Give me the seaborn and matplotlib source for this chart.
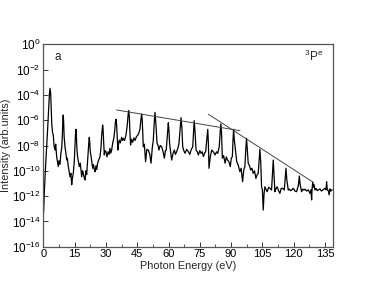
import numpy as np
import matplotlib
matplotlib.use("Agg")
import matplotlib.pyplot as plt
from matplotlib.ticker import MultipleLocator, NullLocator, FuncFormatter
import seaborn as sns
import pandas as pd

# spectrum: (photon energy eV, log10 intensity)
spec_low = [
    (0.1, -13.3), (0.5, -11.5), (1.0, -9.8), (1.5, -8.3), (2.0, -6.8), (2.6, -4.8),
    (2.9, -3.9), (3.2, -3.48), (3.5, -3.9), (3.8, -5.2), (4.0, -6.25), (4.4, -7.0),
    (4.75, -7.17), (5.1, -8.0), (5.56, -8.36), (5.9, -7.9), (6.38, -8.9), (6.8, -9.3),
    (7.14, -9.67), (7.5, -9.2), (7.96, -9.5), (8.4, -8.6), (8.77, -8.22), (9.1, -7.2),
    (9.3, -6.1), (9.5, -5.59), (9.7, -6.1), (9.95, -7.3), (10.35, -8.1), (10.8, -8.6),
    (11.17, -9.15), (11.5, -9.0), (11.94, -9.67), (12.3, -10.0), (12.75, -10.47),
    (13.2, -10.2), (13.57, -11.1), (13.9, -10.6), (14.33, -10.2), (14.8, -9.3),
    (15.15, -8.0), (15.4, -7.1), (15.6, -6.72), (15.8, -7.1), (16.05, -8.2), (16.4, -8.9),
    (16.7, -9.2), (17.21, -9.67), (17.7, -9.4), (18.36, -10.47), (18.8, -10.0),
    (19.13, -10.2), (19.5, -10.5), (19.94, -10.73), (20.4, -10.0), (20.76, -10.3),
    (21.2, -9.2), (21.5, -8.5), (21.8, -7.7), (22.0, -7.35), (22.2, -7.7), (22.5, -8.5),
    (22.9, -8.9), (23.2, -9.3), (23.63, -9.8), (24.0, -9.5), (24.4, -9.9), (24.8, -10.07),
    (25.2, -9.6), (25.6, -9.9), (26.0, -9.4), (26.6, -9.1), (27.13, -8.9), (27.6, -8.2),
    (27.95, -7.2), (28.2, -6.7), (28.4, -6.38), (28.6, -6.7), (28.85, -7.6), (29.2, -8.75),
    (29.5, -8.4), (30.0, -8.49),
]
spec_mid = [
    (30.5, -8.9), (31.0, -8.5), (31.5, -8.7), (31.9, -8.22), (32.3, -8.6), (32.7, -8.4),
    (33.2, -7.83), (33.8, -7.4), (34.2, -6.8), (34.5, -6.2), (34.8, -5.93), (35.1, -6.3),
    (35.4, -7.3), (35.7, -8.36), (36.0, -7.9), (36.4, -7.57), (36.9, -7.8), (37.5, -7.35),
    (38.0, -7.6), (38.3, -7.43), (38.9, -7.6), (39.6, -7.17), (40.2, -6.4), (40.6, -5.6),
    (40.9, -5.25), (41.2, -5.7), (41.5, -7.0), (41.8, -7.96), (42.2, -7.5), (42.8, -7.75),
    (43.4, -7.4), (44.0, -7.6), (44.6, -7.3), (45.2, -7.2), (45.8, -7.0), (46.3, -6.7),
    (46.8, -5.9), (47.1, -5.51), (47.4, -6.0), (47.9, -8.1), (48.4, -7.9), (49.0, -9.28),
    (49.6, -8.3), (50.3, -8.36), (51.0, -8.7), (51.6, -9.4), (52.2, -8.2), (52.7, -7.57),
    (53.1, -6.3), (53.5, -5.38), (53.9, -6.2), (54.5, -7.83), (55.0, -8.0), (55.4, -8.36),
    (56.0, -8.0), (56.7, -8.1), (57.4, -8.5), (58.0, -9.0), (58.5, -8.4), (58.9, -8.36),
    (59.5, -7.0), (59.9, -6.2), (60.2, -6.8), (60.5, -7.83), (61.0, -8.5), (61.5, -9.15),
    (62.2, -8.6), (62.8, -8.36), (63.3, -8.7), (63.9, -8.49), (64.5, -8.2), (65.0, -7.83),
    (65.6, -6.6), (66.0, -5.8), (66.4, -6.6), (66.8, -8.1), (67.3, -8.4), (67.9, -8.62),
    (68.7, -8.3), (69.5, -8.49), (70.2, -8.7), (70.8, -8.36), (71.6, -8.1), (72.0, -6.9),
    (72.3, -6.04), (72.7, -6.9), (73.2, -8.36), (73.8, -8.5), (74.3, -8.75), (75.0, -8.4),
    (75.6, -8.62), (76.2, -8.5), (76.7, -8.88), (77.3, -8.6), (77.8, -8.49), (78.3, -7.6),
    (78.8, -6.72), (79.1, -7.8), (79.4, -9.8), (80.0, -8.9), (80.7, -8.36), (81.5, -8.5),
    (82.3, -8.75), (83.0, -8.5), (83.6, -8.62), (84.3, -8.1), (84.7, -7.1), (85.1, -6.3),
    (85.4, -7.0), (85.8, -9.0), (86.4, -8.8), (87.1, -9.4), (87.7, -8.9), (88.3, -9.15),
    (89.0, -9.3), (89.6, -9.67), (90.1, -9.0), (90.6, -8.88), (90.9, -7.6), (91.2, -6.72),
    (91.5, -7.5), (92.0, -8.22), (92.7, -9.28), (93.4, -9.54), (94.2, -10.07), (94.8, -9.8),
]
spec_high = [
    (95.5, -10.86), (96.1, -9.9), (96.6, -9.67), (97.0, -8.4), (97.4, -7.43), (97.8, -8.4),
    (98.2, -9.4), (98.8, -9.6), (99.4, -9.94), (100.0, -9.8), (100.6, -10.2), (101.2, -10.0),
    (101.9, -10.6), (102.5, -10.3), (103.0, -10.2), (103.4, -9.2), (103.8, -8.3),
    (104.2, -9.3), (104.6, -11.26), (105.0, -11.5), (105.4, -13.1), (105.8, -11.8),
    (106.2, -11.26), (106.8, -11.5), (107.3, -11.65), (108.0, -11.3), (108.6, -11.38),
    (109.4, -11.52), (109.8, -10.4), (110.2, -9.15), (110.6, -10.4), (111.0, -11.65),
    (111.5, -11.4), (112.1, -11.26), (112.8, -11.6), (113.4, -11.78), (114.0, -11.4),
    (114.7, -11.38), (115.5, -11.52), (115.9, -10.7), (116.3, -9.8), (116.7, -10.7),
    (117.4, -11.52), (118.0, -11.45), (118.5, -11.57), (119.2, -11.5), (119.8, -11.38),
    (120.6, -11.6), (121.4, -11.65), (122.3, -11.1), (122.7, -10.41), (123.1, -11.1),
    (123.8, -11.65), (124.3, -11.45), (124.9, -11.52), (125.5, -11.45), (126.2, -11.6),
    (127.0, -11.5), (127.8, -11.78), (128.3, -11.5), (128.6, -12.3), (128.8, -11.5),
    (129.1, -10.94), (129.4, -11.3), (129.8, -11.1), (130.2, -11.52), (130.8, -11.4),
    (131.3, -11.57), (132.0, -11.5), (132.6, -11.43), (133.3, -11.6), (133.9, -11.52),
    (134.5, -11.45), (135.0, -11.38), (135.5, -11.5), (135.8, -10.86), (136.1, -11.5),
    (136.6, -11.57), (137.0, -11.9), (137.4, -11.43), (137.8, -11.6), (138.2, -11.52),
    (138.5, -11.5),
]

# guide lines drawn over the peaks (endpoints: eV, log10 intensity)
guide_plateau = [(35.1, -5.19), (94.2, -6.83)]
guide_cutoff = [(79.1, -5.53), (129.4, -10.91)]

x_ticks = [0, 15, 30, 45, 60, 75, 90, 105, 120, 135]
y_exponents = [0, -2, -4, -6, -8, -10, -12, -14, -16]

sns.set_style("ticks")
plt.rcParams["font.family"] = ["Liberation Sans", "DejaVu Sans"]
plt.rcParams["mathtext.fontset"] = "custom"
plt.rcParams["mathtext.rm"] = "Liberation Sans"
plt.rcParams["mathtext.it"] = "Liberation Sans:italic"

spec = pd.DataFrame(spec_low + spec_mid + spec_high, columns=["energy", "logI"])
spec["intensity"] = 10.0 ** spec["logI"]

fig = plt.figure(figsize=(3.76, 2.91), dpi=100)
ax = fig.add_axes([0.1154, 0.1522, 0.7694, 0.6956])

sns.lineplot(data=spec, x="energy", y="intensity", ax=ax, color="black",
             linewidth=0.9, estimator=None, sort=False)
for guide in (guide_plateau, guide_cutoff):
    gx = [p[0] for p in guide]
    gy = [10.0 ** p[1] for p in guide]
    ax.plot(gx, gy, color="#444444", linewidth=0.7)

ax.set_yscale("log")
ax.set_xlim(0, 138.7)
ax.set_ylim(1e-16, 1)
ax.set_xticks(x_ticks)
ax.xaxis.set_minor_locator(MultipleLocator(7.5))
ax.set_yticks([10.0 ** e for e in y_exponents])
ax.yaxis.set_minor_locator(NullLocator())
ax.yaxis.set_major_formatter(FuncFormatter(
    lambda v, pos: r"$\mathregular{10^{%d}}$" % round(np.log10(v))))

ax.tick_params(which="both", direction="in", colors="#333333", labelcolor="black",
               pad=2)
ax.tick_params(axis="x", labelsize=8)
ax.tick_params(axis="y", labelsize=8.5)
ax.tick_params(which="major", length=3.5, width=0.7)
ax.tick_params(which="minor", length=2, width=0.6)
for s in ax.spines.values():
    s.set_color("#555555")
    s.set_linewidth(0.9)

ax.set_xlabel("Photon Energy (eV)", fontsize=7.8, labelpad=1)
ax.set_ylabel("Intensity (arb.units)", fontsize=7.8, labelpad=0.5)

ax.text(0.04, 0.937, "a", transform=ax.transAxes, fontsize=8.5, va="center")
ax.text(0.966, 0.94, r"$\mathregular{^3P^e}$", transform=ax.transAxes,
        fontsize=8.5, va="center", ha="right")

fig.savefig("out.png", dpi=100)
